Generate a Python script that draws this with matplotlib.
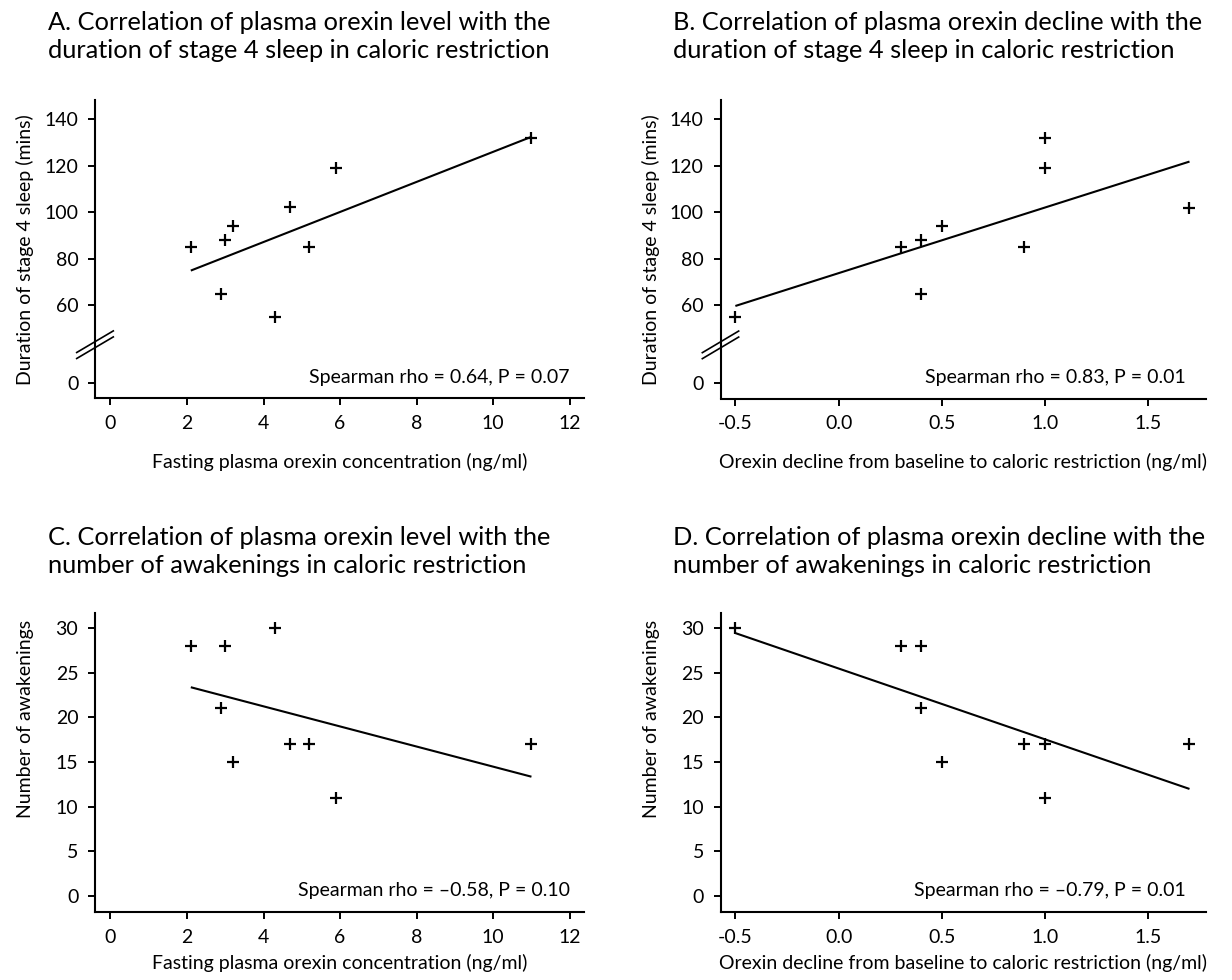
import numpy as np
import matplotlib
matplotlib.use("Agg")
import matplotlib.pyplot as plt
from matplotlib.lines import Line2D

plt.rcParams['font.family'] = ['Lato', 'DejaVu Sans']
plt.rcParams['axes.unicode_minus'] = False

# ---------------- data ----------------
orexin_level = [2.1, 3.0, 3.2, 2.9, 4.3, 4.7, 5.2, 5.9, 11.0]
orexin_decline = [-0.5, 0.3, 0.4, 0.4, 0.5, 0.9, 1.0, 1.0, 1.7]
stage4_level = [85, 88, 94, 65, 55, 102, 85, 119, 132]
stage4_decline = [55, 85, 88, 65, 94, 85, 132, 119, 102]
awak_level = [28, 28, 15, 21, 30, 17, 17, 11, 17]
awak_decline = [30, 28, 28, 21, 15, 17, 17, 11, 17]

titles = [
    "A. Correlation of plasma orexin level with the\nduration of stage 4 sleep in caloric restriction",
    "B. Correlation of plasma orexin decline with the\nduration of stage 4 sleep in caloric restriction",
    "C. Correlation of plasma orexin level with the\nnumber of awakenings in caloric restriction",
    "D. Correlation of plasma orexin decline with the\nnumber of awakenings in caloric restriction",
]
stats = ["Spearman rho = 0.64, P = 0.07", "Spearman rho = 0.83, P = 0.01",
         "Spearman rho = \u20130.58, P = 0.10", "Spearman rho = \u20130.79, P = 0.01"]
xlabels = ["Fasting plasma orexin concentration (ng/ml)",
           "Orexin decline from baseline to caloric restriction (ng/ml)"]
ylabels = ["Duration of stage 4 sleep (mins)", "Number of awakenings"]
xticks_level = [0, 2, 4, 6, 8, 10, 12]
xticks_decline = [-0.5, 0.0, 0.5, 1.0, 1.5]
yticks_sleep = [0, 60, 80, 100, 120, 140]
yticks_awak = [0, 5, 10, 15, 20, 25, 30]

# ---------------- broken-axis scale ----------------
BRK = 43.0
K = 0.386


def fwd(v):
    v = np.asarray(v, dtype=float)
    return np.where(v >= BRK, v, BRK - (BRK - v) * K)


def inv(t):
    t = np.asarray(t, dtype=float)
    return np.where(t >= BRK, t, BRK - (BRK - t) / K)


W, H = 1232, 980
fig = plt.figure(figsize=(W / 100, H / 100), dpi=100)


def axes_px(left, right, top, bottom):
    return fig.add_axes([left / W, 1 - bottom / H, (right - left) / W, (bottom - top) / H])


axA = axes_px(95, 583.5, 100, 398.3)
axB = axes_px(720.5, 1205.6, 100, 398.5)
axC = axes_px(95, 583.5, 613, 912)
axD = axes_px(720.5, 1205.6, 613, 912)

panels = [
    (axA, orexin_level, stage4_level, xticks_level, (-0.403, 12.36), 12.0, 0, 0),
    (axB, orexin_decline, stage4_decline, xticks_decline, (-0.572, 1.778), 1.68, 1, 0),
    (axC, orexin_level, awak_level, xticks_level, (-0.403, 12.36), 12.0, 0, 1),
    (axD, orexin_decline, awak_decline, xticks_decline, (-0.572, 1.778), 1.68, 1, 1),
]

for i, (ax, xs, ys, xt, xl, txt_x, xi, yi) in enumerate(panels):
    xs = np.array(xs)
    ys = np.array(ys)
    if yi == 0:
        ax.set_yscale('function', functions=(fwd, inv))
        ax.set_ylim(-16.7, 148.2)
        ax.set_yticks(yticks_sleep)
        ax.set_yticklabels([str(v) for v in yticks_sleep])
    else:
        ax.set_ylim(-1.83, 31.7)
        ax.set_yticks(yticks_awak)
        ax.set_yticklabels([str(v) for v in yticks_awak])
    ax.set_xlim(*xl)
    ax.set_xticks(xt)
    if xi == 0:
        ax.set_xticklabels([str(v) for v in xt])
    else:
        ax.set_xticklabels(["%.1f" % v for v in xt])

    slope, icpt = np.polyfit(xs, ys, 1)
    xx = np.array([xs.min(), xs.max()])
    ax.plot(xx, slope * xx + icpt, color='black', lw=1.5, solid_capstyle='butt')
    ax.plot(xs, ys, linestyle='none', marker='+', ms=8, mew=1.6, color='black')

    ax.text(txt_x, 0, stats[i], ha='right', va='baseline', fontsize=14)

    for s in ('top', 'right'):
        ax.spines[s].set_visible(False)
    for s in ('left', 'bottom'):
        ax.spines[s].set_linewidth(1.5)
    ax.tick_params(direction='out', length=5, width=1.4, labelsize=14, pad=7, color='black')

    ax.set_xlabel(xlabels[xi], fontsize=14, labelpad=15 if yi == 0 else 6)
    ax.set_ylabel(ylabels[yi], fontsize=14)
    ax.yaxis.set_label_coords(-0.125, 0.5 if yi == 0 else 0.645)

    if yi == 0:
        # axis break marks on the left spine
        t0, t1 = fwd(-16.7), fwd(148.2)
        yc = (fwd(BRK) - t0) / (t1 - t0)
        dx = 18.3 / (583.5 - 95)
        dy = 10.8 / 298.3
        off = 3.0 / 298.3
        for o in (off, -off):
            ax.add_line(Line2D([-dx, dx], [yc - dy + o, yc + dy + o], transform=ax.transAxes,
                               color='black', lw=1.2, clip_on=False))

# titles
tx = [47.7, 673.3, 47.7, 673.3]
ty = [58.3, 58.3, 573.3, 573.3]
for i in range(4):
    fig.text(tx[i] / W, 1 - ty[i] / H, titles[i], ha='left', va='baseline',
             fontsize=18.3, linespacing=1.3)

fig.savefig("out.png", dpi=100)
